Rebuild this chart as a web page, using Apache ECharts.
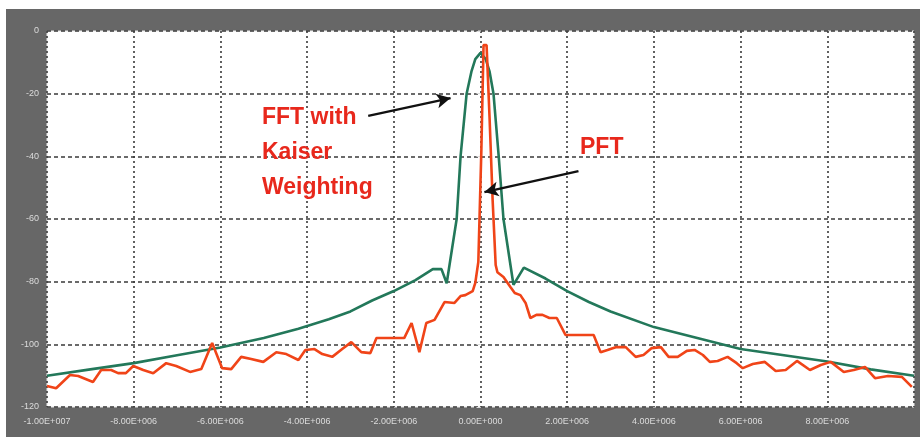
<!DOCTYPE html>
<html>
<head>
<meta charset="utf-8">
<script src="https://cdn.jsdelivr.net/npm/echarts@6/dist/echarts.min.js"></script>
<style>
  html, body { margin: 0; padding: 0; background: #ffffff; }
  #chart { width: 920px; height: 437px; }
</style>
</head>
<body>
<div id="chart"></div>
<script>
// Frequency offsets in MHz, levels in dB.
const fftFreq = [-10, -9, -8, -7, -6, -5, -4.2, -3.5, -3, -2.5, -2, -1.5, -1.1, -0.9, -0.78, -0.55, -0.46, -0.32, -0.21, -0.12, 0,
                 0.12, 0.21, 0.3, 0.42, 0.53, 0.76, 1.0, 1.5, 2.0, 2.5, 3, 4, 5, 6, 7, 8, 9, 10];
const fftLevel = [-110, -108, -106, -103.5, -101, -98, -95, -92, -89.5, -86, -83, -79.5, -76, -76, -80.5, -60, -40, -20, -13, -9, -7,
                  -9, -13, -20, -40, -60, -81, -75.5, -79, -83, -86.5, -89.5, -94.5, -98, -101.5, -103.5, -105.5, -108, -110];

const pftFreq = [-10.0, -9.79, -9.47, -9.28, -8.94, -8.75, -8.52, -8.36, -8.18, -8.01, -7.78, -7.55, -7.25, -7.02, -6.70, -6.44,
                 -6.19, -5.96, -5.75, -5.52, -5.29, -5.01, -4.71, -4.48, -4.20, -4.04, -3.83, -3.65, -3.42, -3.19, -2.98, -2.75,
                 -2.54, -2.40, -2.06, -1.76, -1.59, -1.41, -1.25, -1.06, -0.83, -0.60, -0.46, -0.35, -0.18, -0.12, -0.05, 0.02,
                 0.07, 0.14, 0.21, 0.28, 0.35, 0.39, 0.53, 0.69, 0.79, 0.92, 1.04, 1.15, 1.29, 1.43, 1.59, 1.76, 1.96, 2.61,
                 2.77, 2.93, 3.12, 3.35, 3.58, 3.76, 3.95, 4.16, 4.34, 4.55, 4.76, 4.94, 5.13, 5.29, 5.47, 5.70, 5.91, 6.05,
                 6.28, 6.56, 6.81, 7.04, 7.30, 7.60, 7.85, 8.08, 8.38, 8.61, 8.87, 9.10, 9.40, 9.72, 9.95];
const pftLevel = [-113.3, -114, -109.8, -110.1, -112, -108.2, -108.2, -109.2, -109.2, -106.9, -108.2, -109.2, -106, -106.9, -108.8, -107.9,
                  -99.6, -107.6, -107.9, -104, -104.7, -105.6, -102.5, -103.1, -105, -101.8, -101.5, -103.1, -104, -101.5, -99.3, -102.5,
                  -102.8, -98, -98, -98, -93.2, -102.5, -93.2, -92.2, -86.5, -86.8, -84.6, -84.3, -83, -80.4, -73.7, -38,
                  -4.5, -4.5, -28, -54, -74.7, -77, -78.5, -81.7, -83.6, -84.3, -86.8, -91.6, -90.6, -90.6, -91.6, -91.6, -97, -97,
                  -102.5, -101.8, -100.9, -100.9, -104, -103.4, -101.2, -100.9, -104, -104, -102.1, -101.8, -103.4, -105.6, -105.3, -104, -106, -107.6,
                  -106.3, -105.6, -108.5, -108.2, -105.3, -108.2, -106.6, -105.6, -108.8, -108.2, -107.2, -110.8, -110.1, -110.4, -113.6];

// Axis ranges
const freqMin = -1e7, freqMax = 1e7, freqStep = 2e6;
const levelMin = -120, levelMax = 0, levelStep = 20;

// Annotation arrows: [tailFreqMHz, tailLevel, headFreqMHz, headLevel]
const fftArrow = [-2.59, -27.1, -0.69, -21.4];
const pftArrow = [2.26, -44.7, 0.09, -51.4];

const RED_TEXT = '#e8281c';

function pairs(freq, level) {
  return freq.map((f, i) => [f * 1e6, level[i]]);
}

function sciLabel(v) {
  // e.g. -1.00E+007
  let s = Number(v).toExponential(2);
  const m = s.match(/^(-?\d\.\d+)e([+-])(\d+)$/);
  if (!m) return s;
  return m[1] + 'E' + m[2] + m[3].padStart(3, '0');
}

function arrowLine(a) {
  return [{ coord: [a[0] * 1e6, a[1]] }, { coord: [a[2] * 1e6, a[3]] }];
}

const chart = echarts.init(document.getElementById('chart'), null, { renderer: 'canvas' });

chart.setOption({
  backgroundColor: '#ffffff',
  animation: false,
  graphic: [
    {
      type: 'rect', z: -10, silent: true,
      shape: { x: 6, y: 9, width: 914, height: 428 },
      style: { fill: '#676767' }
    },
    {
      type: 'text', left: 262, top: 100, z: 100,
      style: {
        text: 'FFT with\nKaiser\nWeighting',
        fill: RED_TEXT,
        font: 'bold 23px "Liberation Sans", Arial, sans-serif',
        lineHeight: 35
      }
    },
    {
      type: 'text', left: 580, top: 136, z: 100,
      style: {
        text: 'PFT',
        fill: RED_TEXT,
        font: 'bold 23px "Liberation Sans", Arial, sans-serif'
      }
    }
  ],
  grid: {
    left: 47, right: 6, top: 31, bottom: 30,
    show: true,
    backgroundColor: '#ffffff',
    borderColor: '#e6e6e6',
    borderWidth: 1
  },
  xAxis: {
    type: 'value',
    min: freqMin, max: freqMax, interval: freqStep,
    axisLine: { show: false },
    axisTick: { show: false },
    axisLabel: {
      color: '#dcdcdc',
      fontSize: 9,
      fontFamily: '"Liberation Sans", Arial, sans-serif',
      margin: 10,
      showMaxLabel: false,
      formatter: sciLabel
    },
    splitLine: {
      show: true,
      lineStyle: { color: '#3a3a3a', width: 1.6, type: [2, 3] }
    }
  },
  yAxis: {
    type: 'value',
    min: levelMin, max: levelMax, interval: levelStep,
    axisLine: { show: false },
    axisTick: { show: true, length: 4, lineStyle: { color: '#dcdcdc', width: 1 } },
    axisLabel: {
      color: '#dcdcdc',
      fontSize: 9,
      fontFamily: '"Liberation Sans", Arial, sans-serif',
      margin: 8
    },
    splitLine: {
      show: true,
      lineStyle: { color: '#3a3a3a', width: 1.6, type: [4, 3] }
    }
  },
  series: [
    {
      name: 'FFT with Kaiser Weighting',
      type: 'line',
      data: pairs(fftFreq, fftLevel),
      showSymbol: false,
      smooth: false,
      z: 3,
      lineStyle: { color: '#23785a', width: 2.6 }
    },
    {
      name: 'PFT',
      type: 'line',
      data: pairs(pftFreq, pftLevel),
      showSymbol: false,
      smooth: false,
      z: 4,
      lineStyle: { color: '#f04418', width: 2.6 },
      markLine: {
        silent: true,
        symbol: ['none', 'arrow'],
        symbolSize: [11, 14],
        label: { show: false },
        lineStyle: { color: '#111111', width: 2.4, type: 'solid' },
        data: [arrowLine(fftArrow), arrowLine(pftArrow)]
      }
    }
  ]
});
</script>
</body>
</html>
